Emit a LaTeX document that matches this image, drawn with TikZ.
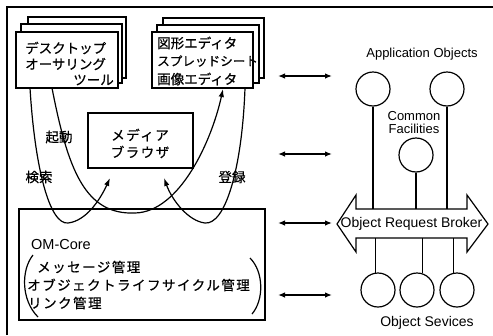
\documentclass[tikz,border=0pt]{standalone}
\usepackage{fontspec}
\setmainfont{Liberation Sans}
\newfontfamily\jp{Noto Sans CJK JP}[FakeBold=0.6]
\newfontfamily\jpw{Noto Sans CJK JP}[LetterSpace=11,FakeBold=0.6]
\usetikzlibrary{arrows.meta}
\tikzset{
  line/.style={line width=1.2pt},
  card/.style={draw, line width=1.2pt, fill=white, anchor=north west, inner sep=0pt, outer sep=0pt},
  jt/.style={inner sep=0pt, font=\fontsize{13.5}{16}\selectfont\jp},
  jtw/.style={inner sep=0pt, font=\fontsize{13.5}{16}\selectfont\jpw},
  lt/.style={inner sep=0pt, font=\fontsize{13}{13}\selectfont},
  ltb/.style={inner sep=0pt, font=\fontsize{14}{16}\selectfont},
  ball/.style={circle, draw, line width=1.2pt, minimum size=34pt, inner sep=0pt},
  biarrow/.style={line width=1.3pt, {Latex[length=7pt,width=5.5pt]}-{Latex[length=7pt,width=5.5pt]}},
  flow/.style={line width=1.2pt, -{Latex[length=8pt,width=5.5pt]}},
}
\begin{document}
\begin{tikzpicture}[x=1pt,y=-1pt]
\useasboundingbox (0,0) rectangle (493,335);
% frame
\draw[line] (7,335) -- (7,7) -- (493,7);

% desktop authoring stack
\node[card, minimum width=98pt, minimum height=61pt] (desk3) at (28,17) {};
\node[card, minimum width=101pt, minimum height=59pt] (desk2) at (21,24) {};
\node[card, minimum width=102pt, minimum height=56pt] (desk) at (16,32) {};
\node[jt, anchor=west] (d1) at (25,48) {デスクトップ};
\node[jt, anchor=west] (d2) at (25,64) {オーサリング};
\node[jt, anchor=east] (d3) at (114,80) {ツール};

% editor stack
\node[card, minimum width=101pt, minimum height=60pt] (ed3) at (163,18) {};
\node[card, minimum width=102pt, minimum height=58pt] (ed2) at (157,25) {};
\node[card, minimum width=101pt, minimum height=56pt] (ed) at (152,32) {};
\node[jt, anchor=west] (e1) at (157,43) {図形エディタ};
\node[jt, anchor=west, font=\fontsize{12.6}{16}\selectfont\jp] (e2) at (157,61) {スプレッドシート};
\node[jt, anchor=west] (e3) at (157,79) {画像エディタ};

% media browser
\node[card, minimum width=105pt, minimum height=55pt] (media) at (88,113) {};
\node[jtw] (m1) at (140,135) {メディア};
\node[jtw] (m2) at (140,152) {ブラウザ};

% OM-Core
\node[card, minimum width=246pt, minimum height=111pt] (om) at (19,209) {};
\node[inner sep=0pt, font=\fontsize{14.5}{17}\selectfont, anchor=west] (omc) at (31,245) {OM-Core};
\node[jtw, anchor=west] (o1) at (37,267) {メッセージ管理};
\node[jtw, anchor=west] (o2) at (27,285) {オブジェクトライフサイクル管理};
\node[jtw, anchor=west] (o3) at (28,303) {リンク管理};
\draw[line] (33,255) .. controls (21,270) and (21,300) .. (38,317);
\draw[line] (250,258) .. controls (264,272) and (264,300) .. (252,314);

% curves
\coordinate (k0) at (30,88);
\coordinate (k1) at (110,178);
\coordinate (q0) at (52,88);
\coordinate (q1) at (223,89);
\coordinate (t0) at (245,88);
\coordinate (t1) at (164,178);
\draw[flow] (k0) .. controls (35,170) and (50,225) .. (68,223) .. controls (86,221) and (100,200) .. (k1);
\draw[flow] (q0) .. controls (68,170) and (85,215) .. (135,213) .. controls (180,212) and (212,140) .. (q1);
\draw[flow] (t0) .. controls (242,170) and (225,225) .. (205,223) .. controls (188,221) and (172,200) .. (t1);
\node[jt] (lk) at (39,177) {検索};
\node[jt] (lq) at (59,137) {起動};
\node[jt] (lt1) at (232,177) {登録};

% double arrows
\foreach \i/\y in {1/76,2/154,3/223,4/295}{
  \coordinate (al\i) at (278,\y);
  \coordinate (ar\i) at (332,\y);
  \draw[biarrow] (al\i) -- (ar\i);
}

% right side
\node[lt] (aol) at (422,54) {Application Objects};
\node[ball] (ao1) at (373,89) {};
\node[ball] (ao2) at (447,89) {};
\node[lt, align=center] (cfl) at (414,123) {Common\\Facilities};
\node[ball] (cf) at (416,155) {};
\node[ltb, minimum width=111pt, minimum height=29pt] (orb) at (411.5,223.5) {Object Request Broker};
\draw[line, line join=miter] (356,209) -- (356,195) -- (337,224) -- (356,252) -- (356,238)
  -- (467,238) -- (467,252) -- (488,224) -- (467,195) -- (467,209) -- cycle;
\draw[line] (ao1.south) -- (ao1.south |- orb.north);
\draw[line] (ao2.south) -- (ao2.south |- orb.north);
\draw[line] (cf.south) -- (cf.south |- orb.north);
\node[ball] (os1) at (378,290) {};
\node[ball] (os2) at (417,290) {};
\node[ball] (os3) at (457,290) {};
\draw[line] (os1.97) -- (os1.97 |- orb.south);
\draw[line] (os2.73) -- (os2.73 |- orb.south);
\draw[line] (os3.102) -- (os3.102 |- orb.south);
\node[ltb] (osl) at (427,323) {Object Sevices};
\end{tikzpicture}
\end{document}
